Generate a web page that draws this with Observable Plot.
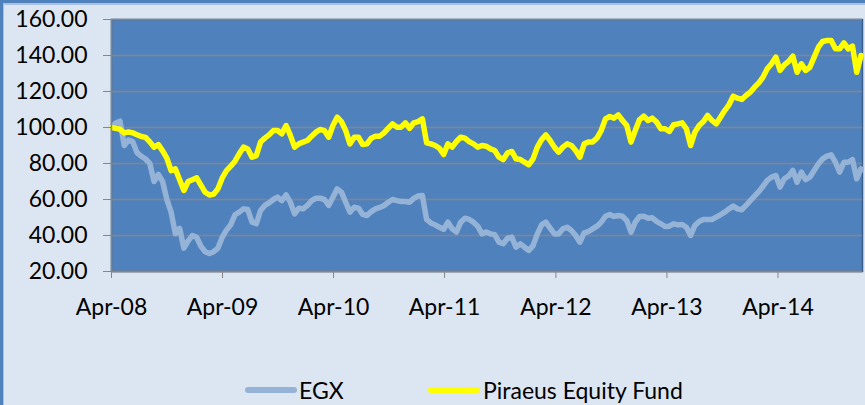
<!DOCTYPE html>
<html>
<head>
<meta charset="utf-8">
<script src="https://cdn.jsdelivr.net/npm/d3@7"></script>
<script src="https://cdn.jsdelivr.net/npm/@observablehq/plot@0.6"></script>
<style>
  html, body { margin: 0; padding: 0; background: #dce6f2; }
  #chart { position: relative; width: 865px; height: 405px; background: #dce6f2; overflow: hidden; font-family: Lato, "Open Sans", sans-serif; }
  #plotwrap { position: absolute; left: 0; top: 0; }
  .edge { position: absolute; background: #4f81bd; }
  .legend-item { position: absolute; top: 376px; font-size: 23px; line-height: normal; color: #000; white-space: nowrap; }
  .swatch { position: absolute; height: 6px; border-radius: 3px; top: 387px; }
</style>
</head>
<body>
<div id="chart">
  <div id="plotwrap"></div>
  <div class="edge" style="left:0;top:0;width:865px;height:3px;"></div>
  <div class="edge" style="left:0;top:3px;width:865px;height:2px;background:#a9c0de;"></div>
  <div class="edge" style="left:0;top:0;width:3px;height:405px;"></div>
  <div class="edge" style="left:3px;top:5px;width:1px;height:400px;background:#a9c0de;"></div>
  <div class="swatch" style="left:245px;width:52px;background:#95b3d7;"></div>
  <div class="legend-item" style="left:299px;">EGX</div>
  <div class="swatch" style="left:428px;width:52px;background:#ffff00;"></div>
  <div class="legend-item" style="left:483px;">Piraeus Equity Fund</div>
</div>
<script>
// Series names
const seriesNames = ["EGX", "Piraeus Equity Fund"];

// Observations: bi-weekly, starting 1 Apr 2008
const startDate = new Date(Date.UTC(2008, 3, 1));
const stepDays = 14;

// EGX index (rebased to 100)
const egx = [
  100, 102.5, 103.5, 90, 93, 92, 86, 84, 82.5, 80,
  70, 74, 70, 60, 53, 41, 44, 33, 37, 40,
  39, 34, 31, 30, 31, 33, 39, 43, 46, 51.5,
  53, 54.8, 54.4, 47.4, 46.5, 53.9, 56.7, 58.1, 60, 61.3,
  59.4, 62.6, 58.5, 52, 55.2, 54.8, 56.7, 59.4, 60.7, 60.7,
  60, 56.7, 61.3, 65.9, 64.1, 58.5, 53, 55.7, 55.2, 51.7,
  51.1, 53.3, 54.8, 55.6, 56.7, 58.5, 60, 59.4, 58.9, 58.9,
  58.5, 60.7, 61.9, 62.2, 48.9, 47, 45.9, 44.6, 43.5, 47.4,
  43.7, 41.9, 47.4, 49.6, 48.9, 47.4, 45.2, 40.9, 41.9, 40.9,
  40.4, 36.3, 35.4, 38.5, 39.1, 33.5, 35.4, 33.5, 31.7, 34.4,
  40.9, 45.9, 47.4, 44.1, 40.9, 40.9, 43.7, 44.6, 42.8, 40,
  36.3, 41.5, 42.2, 43.7, 45.2, 47.4, 50.7, 51.7, 50.6, 51.1,
  50.7, 48.3, 41.9, 47.4, 50.6, 50.7, 49.6, 49.8, 47.8, 46.5,
  45, 45.2, 46.5, 45.9, 46.1, 44.6, 40, 45.6, 47.8, 48.9,
  48.9, 48.9, 50.2, 51.5, 53, 54.8, 56.3, 54.8, 54.3, 56.7,
  59.4, 61.9, 64.4, 67.4, 70.6, 72.4, 73.3, 66.9, 71.5, 73,
  76.1, 69.6, 75.2, 71.1, 72.4, 76.1, 79.8, 82.6, 84.1, 84.8,
  80.7, 75.2, 80.7, 80.7, 82.2, 71.5, 77
];

// Piraeus Equity Fund (rebased to 100)
const piraeus = [
  100, 99.5, 99, 97, 97.5, 97, 96, 95, 94.5, 92,
  89, 90.5, 87, 83, 76, 77, 71, 65, 70, 71,
  72, 68, 64, 62.5, 63, 66, 72, 76, 78.5, 81.3,
  85.4, 89.1, 88.1, 83.5, 84.4, 91.9, 94.1, 95.9, 98.3, 98.3,
  96.5, 101.1, 95.6, 89.1, 90.9, 91.9, 92.8, 95.2, 97.4, 98.9,
  98.3, 94.6, 101.1, 105.7, 103.3, 98.3, 90.9, 94.6, 94.6, 90.5,
  90.9, 94.1, 95.2, 95.2, 97, 99.6, 102, 100.2, 100.2, 102.6,
  99.6, 102.6, 103.3, 104.8, 91.5, 90.9, 90, 88.5, 85, 90.9,
  89.1, 92.2, 94.6, 94.1, 92.2, 90.9, 89.1, 90, 89.6, 88.1,
  87.2, 83.5, 82.2, 85.9, 86.7, 82.6, 82.2, 80.7, 79.3, 82.6,
  89.1, 93.3, 95.9, 92.8, 89.1, 86.3, 89.1, 90.9, 90, 87.2,
  83.5, 90.9, 91.9, 91.9, 94.1, 98.3, 104.8, 106.1, 105.2, 107,
  103.9, 101.1, 91.9, 98.3, 104.4, 106.3, 103.9, 105.2, 103, 99.3,
  99.3, 97.8, 101.5, 102, 102.6, 99.3, 90, 97.4, 101.1, 103.3,
  106.7, 103.9, 102, 105.7, 109.4, 112.6, 117.4, 116.3, 115.6, 117.8,
  119.6, 122.4, 124.8, 128, 132.6, 135.4, 139.1, 131.7, 134.8, 136.7,
  139.6, 130.7, 135.4, 131.7, 133.5, 139.1, 144.6, 147.8, 148.3, 148.3,
  143.7, 143.7, 147, 143.7, 145.2, 130.7, 140
];

// Axis ticks
const tickYears = [2008, 2009, 2010, 2011, 2012, 2013, 2014];
const yTicks = [20, 40, 60, 80, 100, 120, 140, 160];

const dates = egx.map((_, i) => d3.utcDay.offset(startDate, i * stepDays));
const rows = [
  ...egx.map((v, i) => ({date: dates[i], value: v, series: seriesNames[0]})),
  ...piraeus.map((v, i) => ({date: dates[i], value: v, series: seriesNames[1]}))
];
const xTicks = tickYears.map(y => new Date(Date.UTC(y, 3, 1)));
const xEnd = d3.utcDay.offset(startDate, 2469);

const chart = Plot.plot({
  width: 865,
  height: 330,
  marginLeft: 111,
  marginRight: 3,
  marginTop: 19,
  marginBottom: 59,
  style: {background: "transparent", fontFamily: "Lato, 'Open Sans', sans-serif", fontSize: "23px", color: "#000", overflow: "visible"},
  x: {type: "utc", domain: [startDate, xEnd]},
  y: {domain: [20, 160]},
  marks: [
    Plot.frame({fill: "#4f81bd", stroke: "#385d8a", strokeWidth: 1.5}),
    Plot.gridY(yTicks, {stroke: "#868686", strokeOpacity: 1, strokeWidth: 1.5}),
    Plot.line(rows.filter(d => d.series === seriesNames[0]), {x: "date", y: "value", stroke: "#95b3d7", strokeWidth: 5.5, strokeLinejoin: "round", strokeLinecap: "round"}),
    Plot.line(rows.filter(d => d.series === seriesNames[1]), {x: "date", y: "value", stroke: "#ffff00", strokeWidth: 5.5, strokeLinejoin: "round", strokeLinecap: "round"}),
    Plot.ruleX([startDate], {stroke: "#868686", strokeWidth: 1.5}),
    Plot.ruleY([20], {stroke: "#868686", strokeWidth: 1.5}),
    Plot.axisY({ticks: yTicks, tickFormat: d => d.toFixed(2), tickSize: 8, tickPadding: 16, stroke: "#868686", fill: "#000", label: null}),
    Plot.axisX({ticks: xTicks, tickFormat: d3.utcFormat("%b-%y"), tickSize: 7, tickPadding: 20, stroke: "#868686", fill: "#000", label: null})
  ]
});
document.getElementById("plotwrap").appendChild(chart);
</script>
</body>
</html>
